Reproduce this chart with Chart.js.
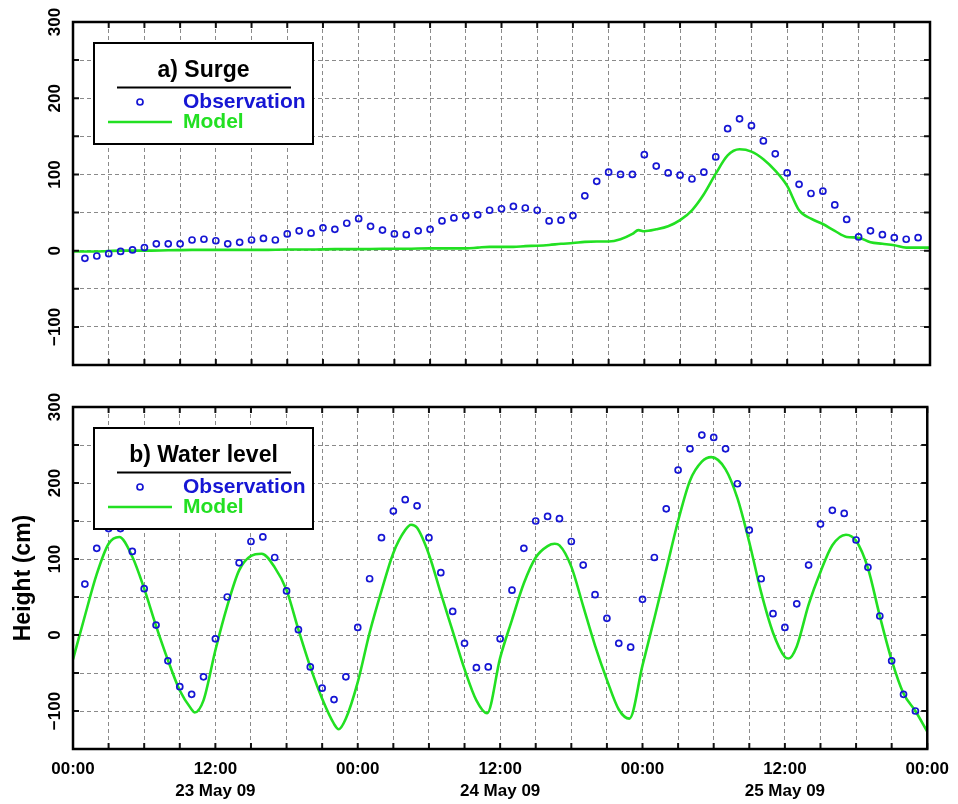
<!DOCTYPE html>
<html>
<head>
<meta charset="utf-8">
<script src="https://cdn.jsdelivr.net/npm/chart.js@4.4.1/dist/chart.umd.min.js"></script>
<style>
  html, body { margin: 0; padding: 0; background: #fff; }
  #wrap { position: relative; width: 958px; height: 804px; }
  canvas { position: absolute; left: 0; }
  #surge { top: 0; }
  #level { top: 380px; }
</style>
</head>
<body>
<div id="wrap">
  <canvas id="surge" width="958" height="380"></canvas>
  <canvas id="level" width="958" height="424"></canvas>
</div>
<script>
// Hourly observations start one hour after 00:00, 23 May 09
const FIRST_OBS_HOUR = 1;

// a) Surge (cm)
const surgeObs = [
  -10, -7, -4, -1, 1, 4, 9, 9, 9, 14, 15, 13, 9, 11, 14, 16, 14, 22, 26, 23,
  30, 28, 36, 42, 32, 27, 22, 21, 26, 28, 39, 43, 46, 47, 53, 55, 58, 56, 53, 39,
  40, 46, 72, 91, 103, 100, 100, 126, 111, 102, 99, 94, 103, 123, 160, 173, 164, 144, 127, 102,
  87, 75, 78, 60, 41, 18, 26, 21, 17, 15, 17
];
const surgeModelHours = [
  0, 2, 4, 6, 8, 10, 12, 14, 16, 18, 20, 22, 24, 26, 28, 30, 32, 33, 34, 35, 36, 37, 38, 39, 40,
  41, 42, 43, 44, 45, 46, 47, 47.5, 48, 49, 50, 51, 52, 53, 54, 55, 56, 57, 58, 59, 60,
  61, 62, 63, 64, 65, 66, 67, 68, 69, 70, 71, 72
];
const surgeModel = [
  -1, -1, 0, 0, 0.5, 1, 1, 1, 1, 1.5, 1.5, 2, 2, 2.5, 2.5, 3, 3, 3, 4, 5, 5, 5, 6, 6.5, 7.5,
  9, 10, 11.5, 12, 12, 15, 22, 27, 25.5, 28, 32, 40, 53, 74, 101, 125, 133, 130, 120, 105, 85,
  53, 42, 35, 26, 18, 17, 11, 9, 7, 4, 4, 4
];

// b) Water level (cm)
const levelObs = [
  67, 114, 140, 140, 110, 61, 13, -34, -68, -78, -55, -5, 50, 95, 123, 129, 102, 58, 7, -42,
  -70, -85, -55, 10, 74, 128, 163, 178, 170, 128, 82, 31, -11, -43, -42, -5, 59, 114, 150, 156,
  153, 123, 92, 53, 22, -11, -16, 47, 102, 166, 217, 245, 263, 260, 245, 199, 138, 74, 28, 10,
  41, 92, 146, 164, 160, 125, 89, 25, -34, -78, -100
];
const levelModelHours = [
  0, 1, 2, 3, 3.9, 5, 6, 7, 8, 9, 10, 10.25, 11, 12, 13, 14, 15, 15.9, 17, 18, 19, 20, 21, 22, 22.4,
  23, 24, 25, 26, 27, 28, 28.5, 29, 30, 31, 32, 33, 34, 34.9, 36, 37, 38, 39, 40, 40.6, 41,
  42, 43, 44, 45, 46, 46.9, 48, 49, 50, 51, 52, 53, 53.8, 55, 56, 57, 58, 59, 60, 60.3,
  61, 62, 63, 64, 65.15, 66, 67, 68, 69, 70, 71, 72
];
const levelModel = [
  -32, 25, 80, 120, 129, 103, 61, 12, -33, -73, -98, -102, -86, -20, 38, 85, 104, 107, 89, 59, 7, -42, -84, -117, -124,
  -110, -62, 3, 58, 108, 138, 145, 141, 106, 55, 5, -45, -86, -103, -30, 20, 68, 102, 117, 120, 118,
  90, 38, -14, -59, -98, -110, -40, 22, 86, 150, 203, 228, 234, 218, 180, 122, 56, 3, -29, -31,
  -15, 40, 83, 118, 132, 124, 88, 25, -33, -77, -100, -127
];

// Axis ticks
const yTickValues = [-100, 0, 100, 200, 300];
const yTickLabels = ['\u2212100', '0', '100', '200', '300'];
const xTickHours = [0, 12, 24, 36, 48, 60, 72];
const xTickLabels = [
  ['00:00'], ['12:00', '23 May 09'], ['00:00'], ['12:00', '24 May 09'],
  ['00:00'], ['12:00', '25 May 09'], ['00:00']
];

const FONT = '"Liberation Sans", Arial, Helvetica, sans-serif';
const OBS_BLUE = '#1616d4';
const MODEL_GREEN = '#22e022';

const toPoints = (xs, ys) => ys.map((v, i) => ({ x: xs[i], y: v }));
const obsPoints = (vals) => vals.map((v, i) => ({ x: FIRST_OBS_HOUR + i, y: v }));

// Frame, inward tick marks, rotated y labels and the in-plot key
function panelDecor(title) {
  return {
    id: 'panelDecor',
    afterDraw(chart) {
      const { ctx, chartArea: a, scales: { x, y } } = chart;

      // key box
      const bx = a.left + 21, by = a.top + 21, bw = 219, bh = 101;
      ctx.save();
      ctx.fillStyle = '#fff';
      ctx.fillRect(bx, by, bw, bh);
      ctx.strokeStyle = '#000';
      ctx.lineWidth = 2;
      ctx.strokeRect(bx, by, bw, bh);
      ctx.fillStyle = '#000';
      ctx.font = 'bold 23px ' + FONT;
      ctx.textAlign = 'center';
      ctx.textBaseline = 'alphabetic';
      ctx.fillText(title, bx + bw / 2, by + 34);
      ctx.beginPath();
      ctx.moveTo(bx + 23, by + 44.5);
      ctx.lineTo(bx + 197, by + 44.5);
      ctx.lineWidth = 2;
      ctx.stroke();
      // observation entry
      ctx.beginPath();
      ctx.arc(bx + 46, by + 59, 3, 0, Math.PI * 2);
      ctx.strokeStyle = OBS_BLUE;
      ctx.lineWidth = 1.7;
      ctx.stroke();
      ctx.font = 'bold 21px ' + FONT;
      ctx.textAlign = 'left';
      ctx.textBaseline = 'middle';
      ctx.fillStyle = OBS_BLUE;
      ctx.fillText('Observation', bx + 89, by + 59);
      // model entry
      ctx.beginPath();
      ctx.moveTo(bx + 14, by + 79);
      ctx.lineTo(bx + 78, by + 79);
      ctx.strokeStyle = MODEL_GREEN;
      ctx.lineWidth = 2.5;
      ctx.stroke();
      ctx.fillStyle = MODEL_GREEN;
      ctx.fillText('Model', bx + 89, by + 79);
      ctx.restore();

      // inward tick marks on all four sides
      ctx.save();
      ctx.strokeStyle = '#111';
      ctx.lineWidth = 2;
      ctx.beginPath();
      x.ticks.forEach(t => {
        const px = x.getPixelForValue(t.value);
        ctx.moveTo(px, a.bottom); ctx.lineTo(px, a.bottom - 6);
        ctx.moveTo(px, a.top); ctx.lineTo(px, a.top + 6);
      });
      y.ticks.forEach(t => {
        const py = y.getPixelForValue(t.value);
        ctx.moveTo(a.left, py); ctx.lineTo(a.left + 6, py);
        ctx.moveTo(a.right, py); ctx.lineTo(a.right - 6, py);
      });
      ctx.stroke();
      // frame
      ctx.strokeStyle = '#000';
      ctx.lineWidth = 2.5;
      ctx.strokeRect(a.left, a.top, a.right - a.left, a.bottom - a.top);
      ctx.restore();

      // rotated y tick labels
      ctx.save();
      ctx.fillStyle = '#000';
      ctx.font = 'bold 17px ' + FONT;
      ctx.textAlign = 'center';
      ctx.textBaseline = 'middle';
      yTickValues.forEach((v, i) => {
        ctx.save();
        ctx.translate(55, y.getPixelForValue(v));
        ctx.rotate(-Math.PI / 2);
        ctx.fillText(yTickLabels[i], 0, 0);
        ctx.restore();
      });
      ctx.restore();
    }
  };
}

function makePanel(canvasId, title, obs, modelHours, model, opts) {
  return new Chart(document.getElementById(canvasId), {
    type: 'scatter',
    data: {
      datasets: [
        {
          label: 'Observation',
          data: obsPoints(obs),
          pointStyle: 'circle',
          pointRadius: 3,
          pointBorderWidth: 1.7,
          borderColor: OBS_BLUE,
          backgroundColor: 'rgba(0,0,0,0)',
          showLine: false
        },
        {
          label: 'Model',
          data: toPoints(modelHours, model),
          showLine: true,
          pointRadius: 0,
          borderColor: MODEL_GREEN,
          borderWidth: 2.6,
          cubicInterpolationMode: 'monotone'
        }
      ]
    },
    options: {
      responsive: false,
      animation: false,
      devicePixelRatio: 1,
      layout: { padding: { left: 0, right: 28, top: opts.top, bottom: 0 } },
      plugins: { legend: { display: false }, tooltip: { enabled: false } },
      scales: {
        x: {
          type: 'linear',
          min: 0,
          max: 72,
          grid: { color: '#8a8a8a', lineWidth: 1, drawTicks: false },
          border: { display: false, dash: [4, 3] },
          ticks: {
            display: opts.xLabels,
            stepSize: 3,
            autoSkip: false,
            maxRotation: 0,
            minRotation: 0,
            padding: 9,
            color: '#000',
            font: { family: FONT, size: 17, weight: 'bold', lineHeight: 1.32 },
            callback: (value) => {
              const i = xTickHours.indexOf(value);
              return i >= 0 ? xTickLabels[i] : '';
            }
          },
          afterFit: (s) => { s.height = opts.xHeight; }
        },
        y: {
          min: -150,
          max: 300,
          grid: { color: '#8a8a8a', lineWidth: 1, drawTicks: false },
          border: { display: false, dash: [4, 3] },
          ticks: { display: false, stepSize: 50 },
          title: {
            display: !!opts.yTitle,
            text: opts.yTitle || '',
            color: '#000',
            font: { family: FONT, size: 23, weight: 'bold' },
            padding: { top: 10, bottom: 0 }
          },
          afterFit: (s) => { s.width = 73; }
        }
      }
    },
    plugins: [panelDecor(title)]
  });
}

makePanel('surge', 'a) Surge', surgeObs, surgeModelHours, surgeModel,
  { top: 22, xLabels: false, xHeight: 15 });
makePanel('level', 'b) Water level', levelObs, levelModelHours, levelModel,
  { top: 27, xLabels: true, xHeight: 55, yTitle: 'Height (cm)' });
</script>
</body>
</html>
